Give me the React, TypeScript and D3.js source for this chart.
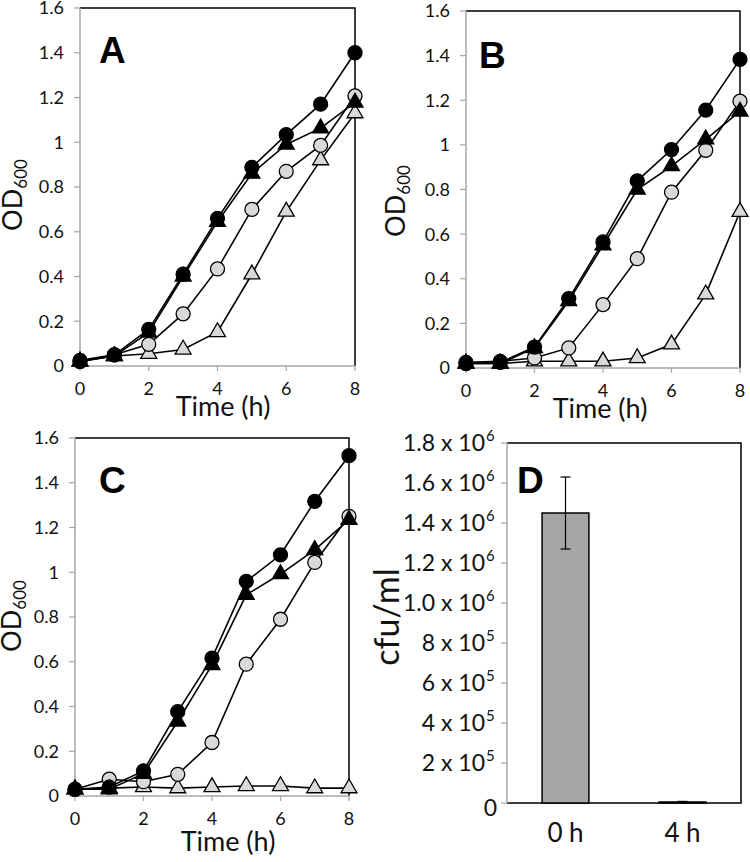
import React from "react";
import * as d3 from "d3";

// time points (h)
const hours = [0, 1, 2, 3, 4, 5, 6, 7, 8];
const xTicks = [0, 2, 4, 6, 8];
const odTicks = [0, 0.2, 0.4, 0.6, 0.8, 1, 1.2, 1.4, 1.6];

// panel A
const aBlackCircle = [0.02, 0.05, 0.164, 0.41, 0.66, 0.888, 1.034, 1.17, 1.4];
const aBlackTriangle = [0.02, 0.045, 0.15, 0.4, 0.645, 0.86, 0.99, 1.063, 1.178];
const aGrayCircle = [0.025, 0.05, 0.097, 0.233, 0.434, 0.7, 0.87, 0.986, 1.207];
const aGrayTriangle = [0.02, 0.045, 0.055, 0.074, 0.152, 0.41, 0.69, 0.92, 1.13];

// panel B
const bBlackCircle = [0.02, 0.025, 0.094, 0.311, 0.565, 0.839, 0.979, 1.156, 1.383];
const bBlackTriangle = [0.02, 0.02, 0.09, 0.3, 0.55, 0.8, 0.905, 1.025, 1.15];
const bGrayCircle = [0.025, 0.03, 0.045, 0.09, 0.284, 0.49, 0.788, 0.976, 1.196];
const bGrayTriangle = [0.02, 0.02, 0.03, 0.03, 0.03, 0.045, 0.106, 0.33, 0.7];

// panel C
const cBlackCircle = [0.03, 0.04, 0.112, 0.377, 0.616, 0.959, 1.078, 1.317, 1.521];
const cBlackTriangle = [0.03, 0.03, 0.1, 0.333, 0.586, 0.899, 0.992, 1.1, 1.235];
const cGrayCircle = [0.03, 0.075, 0.064, 0.097, 0.239, 0.589, 0.79, 1.044, 1.25];
const cGrayTriangle = [0.03, 0.035, 0.04, 0.035, 0.04, 0.045, 0.045, 0.035, 0.035];

// panel D
const cfuCategories = ["0 h", "4 h"];
const cfuValues = [1.45e6, 5e3];
const cfuErrors = [0.18e6, 3e3];
const cfuTicks = [0, 2e5, 4e5, 6e5, 8e5, 1e6, 1.2e6, 1.4e6, 1.6e6, 1.8e6];
const cfuMantissa = ["0", "2", "4", "6", "8", "1.0", "1.2", "1.4", "1.6", "1.8"];
const cfuExponent = ["", "5", "5", "5", "5", "6", "6", "6", "6", "6"];

const FONT = "Lato, 'Open Sans', sans-serif";
const BOLD = "'Liberation Sans', Arial, sans-serif";
const AXIS_GRAY = "#a6a6a6";
const LIGHT = "#d9d9d9";

type Series = { values: number[]; shape: "circle" | "triangle"; fill: string };
type Box = { left: number; right: number; top: number; bottom: number };

const triPath = d3.symbol().type(d3.symbolTriangle).size(110)() as string;

function LinePanel({ box, letter, letterPos, series, odX, odY, timeX, timeY }: {
  box: Box; letter: string; letterPos: [number, number]; series: Series[];
  odX: number; odY: number; timeX: number; timeY: number;
}) {
  const x = d3.scaleLinear().domain([0, 8]).range([box.left, box.right]);
  const y = d3.scaleLinear().domain([0, 1.6]).range([box.bottom, box.top]);
  const line = d3.line<number>().x((_, i) => x(hours[i])).y(d => y(d));

  return (
    <g>
      {/* black frame on top & right */}
      <path d={`M${box.left},${box.top}H${box.right}V${box.bottom}`} fill="none" stroke="#000" strokeWidth={1.5} />
      {/* gray axes */}
      <line x1={box.left} x2={box.left} y1={box.top} y2={box.bottom} stroke={AXIS_GRAY} strokeWidth={1.5} />
      <line x1={box.left} x2={box.right} y1={box.bottom} y2={box.bottom} stroke={AXIS_GRAY} strokeWidth={1.5} />
      {odTicks.map(t => (
        <g key={t}>
          <line x1={box.left - 6} x2={box.left} y1={y(t)} y2={y(t)} stroke={AXIS_GRAY} strokeWidth={1.2} />
          <text x={box.left - 16} y={y(t)} dy="0.36em" textAnchor="end" fontSize={18} fontFamily={FONT} fill="#111">{t}</text>
        </g>
      ))}
      {xTicks.map(t => (
        <g key={t}>
          <line x1={x(t)} x2={x(t)} y1={box.bottom} y2={box.bottom + 5} stroke={AXIS_GRAY} strokeWidth={1.2} />
          <text x={x(t)} y={box.bottom + 29} textAnchor="middle" fontSize={18} fontFamily={FONT} fill="#111">{t}</text>
        </g>
      ))}
      <text x={timeX} y={timeY} textAnchor="middle" fontSize={27} fontFamily={FONT} fill="#111">Time (h)</text>
      <text transform={`translate(${odX},${odY}) rotate(-90)`} textAnchor="middle" fontSize={27} fontFamily={FONT} fill="#111">
        OD<tspan fontSize={17} dy={5}>600</tspan>
      </text>
      <text x={letterPos[0]} y={letterPos[1]} fontSize={37} fontWeight="bold" fontFamily={BOLD}>{letter}</text>

      {series.map((s, si) => (
        <path key={"l" + si} d={line(s.values) as string} fill="none" stroke="#000" strokeWidth={1.6} />
      ))}
      {series.map((s, si) => (
        <g key={"m" + si}>
          {s.values.map((v, i) =>
            s.shape === "circle" ? (
              <circle key={i} cx={x(hours[i])} cy={y(v)} r={7} fill={s.fill} stroke="#000" strokeWidth={1.3} />
            ) : (
              <path key={i} d={triPath} transform={`translate(${x(hours[i])},${y(v)})`} fill={s.fill} stroke="#000" strokeWidth={1.3} />
            )
          )}
        </g>
      ))}
    </g>
  );
}

function BarPanel() {
  const box = { left: 507, right: 741, top: 443, bottom: 803 };
  const x = d3.scaleBand<string>().domain(cfuCategories).range([box.left, box.right]).paddingInner(0.6).paddingOuter(0.3);
  const y = d3.scaleLinear().domain([0, 1.8e6]).range([box.bottom, box.top]);

  return (
    <g>
      <path d={`M${box.left},${box.top}H${box.right}V${box.bottom}H${box.left}`} fill="none" stroke="#000" strokeWidth={1.5} />
      <line x1={box.left} x2={box.left} y1={box.top} y2={box.bottom} stroke={AXIS_GRAY} strokeWidth={1.5} />
      {cfuTicks.map((t, i) => (
        <g key={t}>
          <line x1={box.left - 6} x2={box.left} y1={y(t)} y2={y(t)} stroke={AXIS_GRAY} strokeWidth={1.2} />
          <text x={box.left - (cfuExponent[i] ? 22 : 10)} y={y(t)} dy={i === 0 ? "0.55em" : "0.36em"} textAnchor="end" fontSize={23} fontFamily={FONT} fill="#111">
            {cfuMantissa[i]}{cfuExponent[i] ? " x 10" : ""}
          </text>
          {cfuExponent[i] && (
            <text x={box.left - 21} y={y(t) - 2} textAnchor="start" fontSize={15} fontFamily={FONT} fill="#111">{cfuExponent[i]}</text>
          )}
        </g>
      ))}
      {cfuCategories.map((c, i) => {
        const cx = (x(c) as number) + x.bandwidth() / 2;
        return (
          <g key={c}>
            <rect x={x(c)} y={y(cfuValues[i])} width={x.bandwidth()} height={box.bottom - y(cfuValues[i])} fill="#a6a6a6" stroke="#000" strokeWidth={1.5} />
            <line x1={cx} x2={cx} y1={y(cfuValues[i] + cfuErrors[i])} y2={y(cfuValues[i] - cfuErrors[i])} stroke="#000" strokeWidth={1.2} />
            <line x1={cx - 5} x2={cx + 5} y1={y(cfuValues[i] + cfuErrors[i])} y2={y(cfuValues[i] + cfuErrors[i])} stroke="#000" strokeWidth={1.2} />
            <line x1={cx - 5} x2={cx + 5} y1={y(cfuValues[i] - cfuErrors[i])} y2={y(cfuValues[i] - cfuErrors[i])} stroke="#000" strokeWidth={1.2} />
            <text x={cx} y={842} textAnchor="middle" fontSize={26} fontFamily={FONT} fill="#111">{c}</text>
          </g>
        );
      })}
      <text transform="translate(399,617) rotate(-90)" textAnchor="middle" fontSize={34} fontFamily={FONT} fill="#111">cfu/ml</text>
      <text x={517} y={493} fontSize={37} fontWeight="bold" fontFamily={BOLD}>D</text>
    </g>
  );
}

const mk = (bc: number[], bt: number[], gc: number[], gt: number[]): Series[] => [
  { values: gt, shape: "triangle", fill: LIGHT },
  { values: gc, shape: "circle", fill: LIGHT },
  { values: bc, shape: "circle", fill: "#000" },
  { values: bt, shape: "triangle", fill: "#000" },
];

export default function App() {
  return (
    <svg width={750} height={862} style={{ position: "absolute", left: 0, top: 0, background: "#fff" }}>
      <LinePanel box={{ left: 80, right: 355, top: 8, bottom: 366 }} letter="A" letterPos={[99, 63]}
        series={mk(aBlackCircle, aBlackTriangle, aGrayCircle, aGrayTriangle)}
        odX={22} odY={195} timeX={223} timeY={416} />
      <LinePanel box={{ left: 466, right: 740, top: 11, bottom: 368 }} letter="B" letterPos={[479, 68]}
        series={mk(bBlackCircle, bBlackTriangle, bGrayCircle, bGrayTriangle)}
        odX={405} odY={201} timeX={600} timeY={418} />
      <LinePanel box={{ left: 75, right: 349, top: 438, bottom: 796 }} letter="C" letterPos={[99, 493]}
        series={mk(cBlackCircle, cBlackTriangle, cGrayCircle, cGrayTriangle)}
        odX={21} odY={616} timeX={228} timeY={851} />
      <BarPanel />
    </svg>
  );
}
